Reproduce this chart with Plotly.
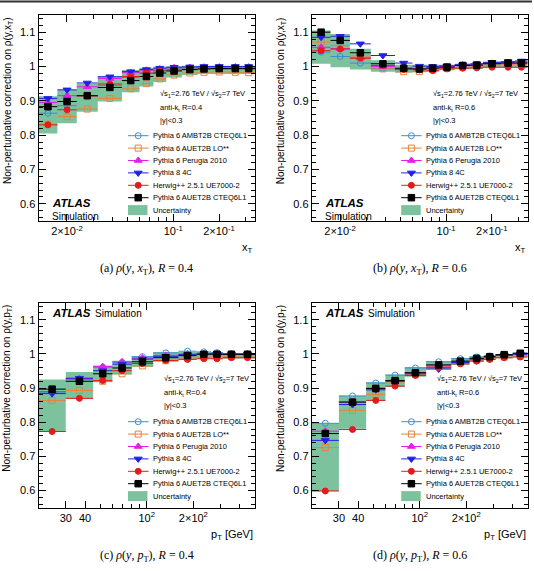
import numpy as np
import plotly.graph_objects as go

W, H = 534, 571

# ---------------- data ----------------
XT_EDGES = [0.013, 0.0173, 0.0232, 0.0319, 0.046, 0.060, 0.074, 0.090, 0.114, 0.145, 0.175, 0.230, 0.285, 0.345]
PT_EDGES = [20, 30, 45, 60, 80, 110, 160, 210, 260, 310, 400, 500]

MODELS = ["Pythia 6 AMBT2B CTEQ6L1", "Pythia 6 AUET2B LO**", "Pythia 6 Perugia 2010",
          "Pythia 8 4C", "Herwig++ 2.5.1 UE7000-2", "Pythia 6 AUET2B CTEQ6L1"]

# (a) rho(y, xT), R = 0.4
A_AMBT2B = [0.864, 0.886, 0.915, 0.945, 0.968, 0.980, 0.988, 0.993, 0.996, 0.997, 0.998, 0.998, 0.998]
A_AUET2B_LO = [0.832, 0.854, 0.876, 0.907, 0.935, 0.950, 0.964, 0.975, 0.981, 0.983, 0.984, 0.983, 0.982]
A_PERUGIA = [0.895, 0.915, 0.941, 0.965, 0.982, 0.989, 0.993, 0.996, 0.997, 0.998, 0.998, 0.998, 0.998]
A_P8_4C = [0.907, 0.932, 0.952, 0.970, 0.985, 0.991, 0.995, 0.998, 0.999, 1.000, 1.000, 1.000, 1.000]
A_HERWIG = [0.830, 0.874, 0.914, 0.949, 0.971, 0.981, 0.987, 0.990, 0.992, 0.993, 0.993, 0.993, 0.993]
A_AUET2B = [0.883, 0.898, 0.915, 0.939, 0.959, 0.971, 0.981, 0.987, 0.991, 0.993, 0.994, 0.994, 0.994]
A_UNC_LO = [0.805, 0.835, 0.868, 0.898, 0.925, 0.942, 0.955, 0.968, 0.975, 0.978, 0.978, 0.978, 0.978]
A_UNC_HI = [0.913, 0.932, 0.950, 0.972, 0.990, 0.996, 0.999, 1.001, 1.002, 1.002, 1.002, 1.002, 1.002]

# (b) rho(y, xT), R = 0.6
B_AMBT2B = [1.042, 1.029, 1.010, 0.995, 0.993, 0.994, 0.997, 1.000, 1.004, 1.005, 1.009, 1.011, 1.012]
B_AUET2B_LO = [1.071, 1.061, 1.030, 0.993, 0.985, 0.985, 0.990, 0.994, 0.998, 1.000, 1.004, 1.006, 1.007]
B_PERUGIA = [1.056, 1.052, 1.025, 1.000, 0.993, 0.993, 0.997, 1.000, 1.004, 1.006, 1.009, 1.011, 1.012]
B_P8_4C = [1.085, 1.088, 1.066, 1.032, 1.010, 1.001, 1.000, 1.002, 1.005, 1.008, 1.012, 1.014, 1.016]
B_HERWIG = [1.046, 1.051, 1.024, 1.003, 0.991, 0.990, 0.988, 0.993, 0.995, 0.996, 0.998, 0.998, 0.998]
B_AUET2B = [1.100, 1.076, 1.040, 1.008, 0.995, 0.993, 0.995, 0.998, 1.003, 1.004, 1.008, 1.010, 1.010]
B_UNC_LO = [1.008, 0.998, 0.991, 0.985, 0.982, 0.983, 0.985, 0.989, 0.992, 0.993, 0.996, 0.997, 0.997]
B_UNC_HI = [1.105, 1.095, 1.052, 1.018, 1.005, 1.003, 1.003, 1.005, 1.008, 1.010, 1.014, 1.016, 1.018]

# (c) rho(y, pT), R = 0.4
C_AMBT2B = [0.888, 0.925, 0.961, 0.975, 0.992, 1.003, 1.008, 1.006, 1.004, 1.001, 1.000]
C_AUET2B_LO = [0.864, 0.893, 0.920, 0.942, 0.965, 0.980, 0.988, 0.991, 0.992, 0.993, 0.994]
C_PERUGIA = [0.890, 0.928, 0.963, 0.977, 0.988, 0.996, 1.000, 1.001, 1.001, 1.000, 1.000]
C_P8_4C = [0.884, 0.929, 0.951, 0.970, 0.985, 0.993, 0.998, 1.000, 1.000, 0.999, 0.999]
C_HERWIG = [0.773, 0.870, 0.922, 0.951, 0.972, 0.981, 0.984, 0.986, 0.986, 0.989, 0.989]
C_AUET2B = [0.897, 0.920, 0.942, 0.959, 0.977, 0.989, 0.995, 0.999, 0.999, 0.999, 0.999]
C_UNC_LO = [0.772, 0.869, 0.917, 0.940, 0.962, 0.977, 0.983, 0.985, 0.985, 0.987, 0.987]
C_UNC_HI = [0.925, 0.947, 0.966, 0.980, 0.993, 1.006, 1.008, 1.008, 1.006, 1.003, 1.002]

# (d) rho(y, pT), R = 0.6
D_AMBT2B = [0.797, 0.877, 0.915, 0.938, 0.959, 0.977, 0.986, 0.991, 0.994, 0.998, 1.001]
D_AUET2B_LO = [0.726, 0.835, 0.881, 0.915, 0.940, 0.963, 0.975, 0.982, 0.987, 0.991, 0.994]
D_PERUGIA = [0.774, 0.860, 0.900, 0.922, 0.945, 0.965, 0.978, 0.986, 0.991, 0.996, 0.999]
D_P8_4C = [0.747, 0.852, 0.895, 0.920, 0.942, 0.956, 0.975, 0.985, 0.991, 0.996, 0.999]
D_HERWIG = [0.599, 0.779, 0.864, 0.906, 0.937, 0.960, 0.971, 0.979, 0.984, 0.989, 0.991]
D_AUET2B = [0.767, 0.859, 0.899, 0.922, 0.945, 0.968, 0.979, 0.987, 0.992, 0.998, 1.002]
D_UNC_LO = [0.598, 0.781, 0.862, 0.903, 0.933, 0.955, 0.968, 0.977, 0.982, 0.987, 0.990]
D_UNC_HI = [0.797, 0.878, 0.917, 0.940, 0.962, 0.979, 0.988, 0.993, 0.996, 1.000, 1.004]

XT_TICKVALS = [0.02, 0.1, 0.2]
XT_TICKTEXT = ["2×10<sup>-2</sup>", "10<sup>-1</sup>", "2×10<sup>-1</sup>"]
PT_TICKVALS = [30, 40, 100, 200]
PT_TICKTEXT = ["30", "40", "10<sup>2</sup>", "2×10<sup>2</sup>"]
Y_TICKVALS = [0.6, 0.7, 0.8, 0.9, 1.0, 1.1]
Y_TICKTEXT = ["0.6", "0.7", "0.8", "0.9", "1", "1.1"]

# ---------------- styles ----------------
COLORS = ["#3a8ed6", "#e8823a", "#e61ee6", "#2020e6", "#e61a1a", "#000000"]
SYMBOLS = ["circle-open", "square-open", "triangle-up", "triangle-down", "circle", "square"]
SIZES = [6, 6, 7, 7, 6, 6.5]
BAND = "#7cc29d"
FONT = "Liberation Sans"

fig = go.Figure()

# pixel-space helpers (margins are zero so paper == page)
def px(x):
    return x / W

def py(y):
    return 1 - y / H

FRAMES = {  # left, top, right, bottom in pixels
    "a": (38.5, 15.0, 255.0, 221.0),
    "b": (311.7, 15.0, 527.7, 221.0),
    "c": (38.5, 302.7, 255.0, 507.7),
    "d": (311.7, 302.7, 527.7, 507.7),
}

PANELS = [
    dict(key="a", xa="x", ya="y", edges=XT_EDGES,
         series=[A_AMBT2B, A_AUET2B_LO, A_PERUGIA, A_P8_4C, A_HERWIG, A_AUET2B],
         lo=A_UNC_LO, hi=A_UNC_HI, R="0.4", var="x"),
    dict(key="b", xa="x2", ya="y2", edges=XT_EDGES,
         series=[B_AMBT2B, B_AUET2B_LO, B_PERUGIA, B_P8_4C, B_HERWIG, B_AUET2B],
         lo=B_UNC_LO, hi=B_UNC_HI, R="0.6", var="x"),
    dict(key="c", xa="x3", ya="y3", edges=PT_EDGES,
         series=[C_AMBT2B, C_AUET2B_LO, C_PERUGIA, C_P8_4C, C_HERWIG, C_AUET2B],
         lo=C_UNC_LO, hi=C_UNC_HI, R="0.4", var="p"),
    dict(key="d", xa="x4", ya="y4", edges=PT_EDGES,
         series=[D_AMBT2B, D_AUET2B_LO, D_PERUGIA, D_P8_4C, D_HERWIG, D_AUET2B],
         lo=D_UNC_LO, hi=D_UNC_HI, R="0.6", var="p"),
]

for p in PANELS:
    e = np.array(p["edges"], dtype=float)
    centers = np.sqrt(e[:-1] * e[1:])
    # uncertainty band as a step polygon
    bx, by = [], []
    for i in range(len(centers)):
        bx += [e[i], e[i + 1]]
        by += [p["hi"][i], p["hi"][i]]
    for i in reversed(range(len(centers))):
        bx += [e[i + 1], e[i]]
        by += [p["lo"][i], p["lo"][i]]
    fig.add_trace(go.Scatter(x=bx, y=by, fill="toself", fillcolor=BAND, mode="lines",
                             line=dict(width=0), xaxis=p["xa"], yaxis=p["ya"],
                             showlegend=False, hoverinfo="skip"))
    for k, vals in enumerate(p["series"]):
        fig.add_trace(go.Scatter(
            x=centers, y=vals, mode="markers", xaxis=p["xa"], yaxis=p["ya"],
            name=MODELS[k], showlegend=False,
            marker=dict(symbol=SYMBOLS[k], size=SIZES[k], color=COLORS[k],
                        line=dict(color=COLORS[k], width=1)),
            error_x=dict(type="data", symmetric=False, array=e[1:] - centers,
                         arrayminus=centers - e[:-1], width=0, thickness=1, color=COLORS[k]),
        ))

# ---------------- axes ----------------
def common(fontsize=11):
    return dict(showline=True, linecolor="black", linewidth=1, mirror="ticks",
                ticks="inside", ticklen=7, tickwidth=1, tickcolor="black",
                showgrid=False, zeroline=False, fixedrange=True,
                tickfont=dict(family=FONT, size=fontsize, color="black"))

xt_minor = [v for v in [0.02, 0.03, 0.04, 0.05, 0.06, 0.07, 0.08, 0.09, 0.2, 0.3] if v not in XT_TICKVALS]
pt_minor = [v for v in [50, 60, 70, 80, 90, 300, 400] if v not in PT_TICKVALS]
y_minor = [round(v, 3) for v in np.arange(0.56, 1.15, 0.02) if all(abs(v - t) > 1e-6 for t in Y_TICKVALS)]

for p in PANELS:
    L, T, R_, B = FRAMES[p["key"]]
    xname = "xaxis" + p["xa"][1:]
    yname = "yaxis" + p["ya"][1:]
    if p["var"] == "x":
        e0, e1 = XT_EDGES[0], XT_EDGES[-1]
        tv, tt, mv = XT_TICKVALS, XT_TICKTEXT, xt_minor
    else:
        e0, e1 = PT_EDGES[0], PT_EDGES[-1]
        tv, tt, mv = PT_TICKVALS, PT_TICKTEXT, pt_minor
    xa = common()
    xa.update(domain=[px(L), px(R_)], type="log", range=[np.log10(e0), np.log10(e1)],
              tickmode="array", tickvals=tv, ticktext=tt, anchor=p["ya"],
              minor=dict(tickmode="array", tickvals=mv, ticks="inside", ticklen=4,
                         tickcolor="black", showgrid=False))
    ya = common()
    ya.update(domain=[py(B), py(T)], range=[0.55, 1.15], tickmode="array",
              tickvals=Y_TICKVALS, ticktext=Y_TICKTEXT, anchor=p["xa"],
              minor=dict(tickmode="array", tickvals=y_minor, ticks="inside", ticklen=4,
                         tickcolor="black", showgrid=False))
    fig.layout[xname] = xa
    fig.layout[yname] = ya

# overlay pixel-space axis for legend symbols and text
fig.layout["xaxis5"] = dict(domain=[0, 1], range=[0, W], visible=False, fixedrange=True, anchor="y5")
fig.layout["yaxis5"] = dict(domain=[0, 1], range=[H, 0], visible=False, fixedrange=True, anchor="x5")

shapes = []
annotations = []

def txt(x, y, text, size=7.5, xanchor="left", yanchor="middle", family=FONT, angle=0):
    annotations.append(dict(x=x, y=y, xref="x5", yref="y5", text=text, showarrow=False,
                            xanchor=xanchor, yanchor=yanchor, textangle=angle,
                            font=dict(family=family, size=size, color="black")))

# top rule
shapes.append(dict(type="line", xref="x5", yref="y5", x0=0, x1=532, y0=1.5, y1=1.5,
                   line=dict(color="#333333", width=2)))

CAPTIONS = {
    "a": "(a) <i>ρ</i>(<i>y</i>, <i>x</i><sub>T</sub>), <i>R</i> = 0.4",
    "b": "(b) <i>ρ</i>(<i>y</i>, <i>x</i><sub>T</sub>), <i>R</i> = 0.6",
    "c": "(c) <i>ρ</i>(<i>y</i>, <i>p</i><sub>T</sub>), <i>R</i> = 0.4",
    "d": "(d) <i>ρ</i>(<i>y</i>, <i>p</i><sub>T</sub>), <i>R</i> = 0.6",
}

for p in PANELS:
    L, T, R_, B = FRAMES[p["key"]]
    top = p["key"] in ("a", "b")
    # legend
    row0 = T + (120.7 if top else 119.0)
    for k in range(6):
        yy = row0 + 12.4 * k
        shapes.append(dict(type="line", xref="x5", yref="y5", x0=L + 89.5, x1=L + 110,
                           y0=yy, y1=yy, line=dict(color=COLORS[k], width=1)))
        fig.add_trace(go.Scatter(x=[L + 99.7], y=[yy], mode="markers", xaxis="x5", yaxis="y5",
                                 showlegend=False, hoverinfo="skip",
                                 marker=dict(symbol=SYMBOLS[k].replace("-open", ""),
                                             size=SIZES[k],
                                             color="white" if "open" in SYMBOLS[k] else COLORS[k],
                                             line=dict(color=COLORS[k], width=1))))
        txt(L + 112, yy, MODELS[k])
    yy = row0 + 12.4 * 6
    shapes.append(dict(type="rect", xref="x5", yref="y5", x0=L + 89.5, x1=L + 109,
                       y0=yy - 5, y1=yy + 5, fillcolor=BAND, line=dict(width=0)))
    txt(L + 112, yy, "Uncertainty")
    # info text
    ix = L + (119.5 if p["var"] == "x" else 123.5)
    iy = T + (79.0 if top else 76.6)
    txt(ix, iy, "√s<sub>1</sub>=2.76 TeV / √s<sub>2</sub>=7 TeV")
    txt(ix, iy + 13.5, "anti-k<sub>t</sub> R=" + p["R"])
    txt(ix, iy + 26.5, "|y|<0.3")
    # ATLAS label
    if top:
        txt(L + 11.5, T + 188, "<b><i>ATLAS</i></b>", size=11.5)
        txt(L + 11.5, T + 201, "Simulation", size=10)
    else:
        txt(L + 11.5, T + 10.5, "<b><i>ATLAS</i></b>", size=11.5)
        txt(L + 54.5, T + 10.5, "Simulation", size=10)
    # axis titles
    vt = "x<sub>T</sub>" if p["var"] == "x" else "p<sub>T</sub>"
    txt(R_, B + 27, vt if p["var"] == "x" else vt + " [GeV]", size=11, xanchor="right")
    txt(L - 31, T, "Non-perturbative correction on ρ(y," + vt + ")", size=10,
        xanchor="center", yanchor="top", angle=-90)
    # caption
    txt((L + R_) / 2, B + 48, CAPTIONS[p["key"]], size=12, xanchor="center",
        family="Liberation Serif")

fig.update_layout(width=W, height=H, margin=dict(l=0, r=0, t=0, b=0),
                  paper_bgcolor="white", plot_bgcolor="rgba(0,0,0,0)",
                  shapes=shapes, annotations=annotations, showlegend=False)

fig.write_html("out.html")
